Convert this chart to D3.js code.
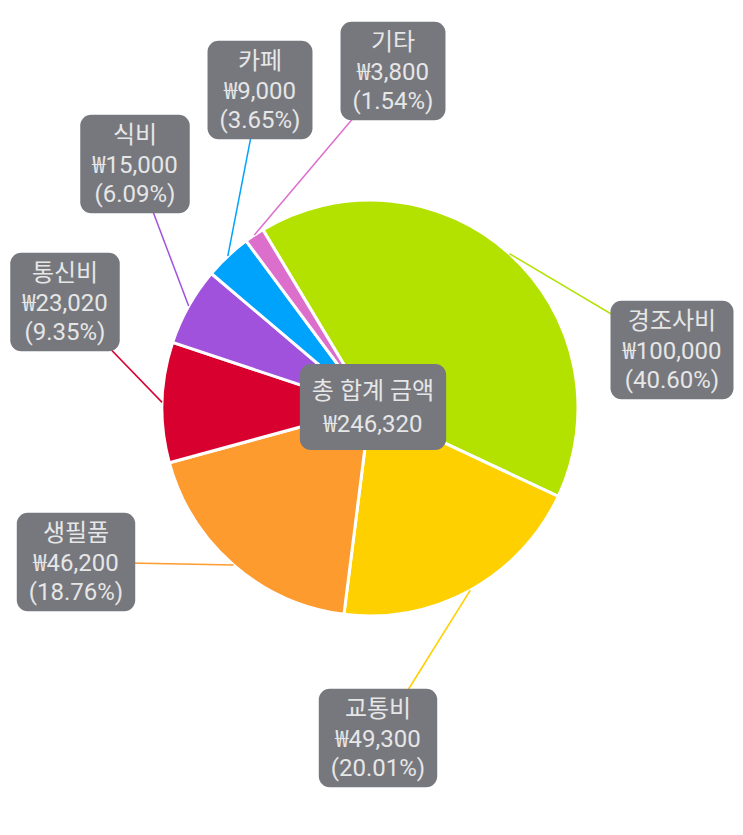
<!DOCTYPE html>
<html>
<head>
<meta charset="utf-8">
<script src="https://cdn.jsdelivr.net/npm/d3@7"></script>
<style>
  body { margin: 0; background: #fff; }
  svg text { font-family: Roboto, "Noto Sans CJK KR", sans-serif; }
  svg tspan.cur { font-family: "Noto Sans CJK KR", sans-serif; }
</style>
</head>
<body>
<div id="chart"></div>
<script>
// Chart data
const categories = ["경조사비", "교통비", "생필품", "통신비", "식비", "카페", "기타"];
const amounts = [100000, 49300, 46200, 23020, 15000, 9000, 3800];
const colors = ["#b3e200", "#ffd000", "#fe9b2f", "#d7002e", "#a052dd", "#00a3fc", "#dc6ecc"];
const centerTitle = "총 합계 금액";

// Layout: where each label box sits (box centre)
const labelPos = [[672, 350], [378, 738], [76, 562], [65, 302], [135, 164], [260, 90], [393, 71]];

const width = 743, height = 835;
const cx = 370, cy = 408, radius = 208;
const startAngle = -31 * Math.PI / 180;

const svg = d3.select("#chart")
  .append("svg")
  .attr("width", width)
  .attr("height", height);

const total = d3.sum(amounts);
const num = v => d3.format(",")(v);
const pct = v => "(" + (v / total * 100).toFixed(2) + "%)";

const data = categories.map((c, i) => ({ name: c, value: amounts[i], color: colors[i], pos: labelPos[i] }));

const pie = d3.pie()
  .sort(null)
  .value(d => d.value)
  .startAngle(startAngle)
  .endAngle(startAngle + 2 * Math.PI);

const arc = d3.arc()
  .innerRadius(0)
  .outerRadius(radius);

const arcs = pie(data);

const g = svg.append("g").attr("transform", `translate(${cx},${cy})`);

// leader lines (drawn under everything, end in box centre)
svg.append("g").selectAll("line")
  .data(arcs)
  .enter()
  .append("line")
  .attr("x1", d => cx + radius * Math.sin((d.startAngle + d.endAngle) / 2))
  .attr("y1", d => cy - radius * Math.cos((d.startAngle + d.endAngle) / 2))
  .attr("x2", d => d.data.pos[0])
  .attr("y2", d => d.data.pos[1])
  .attr("stroke", d => d.data.color)
  .attr("stroke-width", 1.5);

// slices
g.selectAll("path")
  .data(arcs)
  .enter()
  .append("path")
  .attr("d", arc)
  .attr("fill", d => d.data.color)
  .attr("stroke", "#fff")
  .attr("stroke-width", 3)
  .attr("stroke-linejoin", "round");

// label boxes; lines are [text] or ["₩", number]
function drawBox(x, y, lines, lh, padY) {
  const fs = 24;
  const grp = svg.append("g");
  const rect = grp.append("rect")
    .attr("fill", "#76787e")
    .attr("rx", 11);
  const texts = lines.map((t, i) => {
    const txt = grp.append("text")
      .attr("x", x)
      .attr("y", y + (i - (lines.length - 1) / 2) * lh)
      .attr("dy", "0.36em")
      .attr("text-anchor", "middle")
      .attr("font-size", fs)
      .attr("fill", "#e6e6e6");
    if (Array.isArray(t)) {
      txt.append("tspan").attr("class", "cur").text(t[0]);
      txt.append("tspan").text(t[1]);
    } else {
      txt.text(t);
    }
    return txt;
  });
  const w = d3.max(texts, t => t.node().getComputedTextLength()) + 24;
  const h = lines.length * lh + padY;
  rect.attr("x", x - w / 2).attr("y", y - h / 2).attr("width", w).attr("height", h);
}

data.forEach(d => drawBox(d.pos[0], d.pos[1], [d.name, ["₩", num(d.value)], pct(d.value)], 29.5, 10));
drawBox(373, 407, [centerTitle, ["₩", num(total)]], 33, 20);
</script>
</body>
</html>
